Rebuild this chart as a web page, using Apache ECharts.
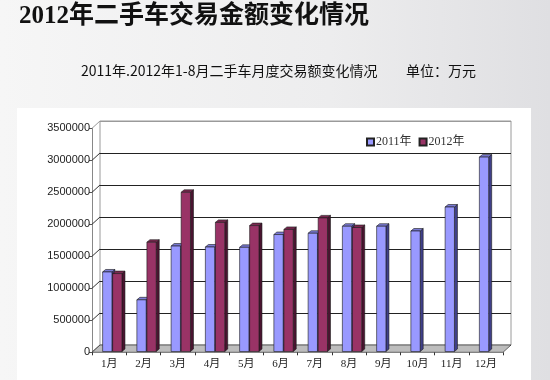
<!DOCTYPE html>
<html><head><meta charset="utf-8">
<script src="https://cdn.jsdelivr.net/npm/echarts@6/dist/echarts.min.js"></script>
<style>
html,body{margin:0;padding:0;}
body{width:550px;height:380px;background:linear-gradient(90deg,#f6f6f6 0%,#ededee 60%,#dfdfe2 100%);}
#c{width:550px;height:380px;}
</style></head>
<body><div id="c"></div>
<script>
const months = ['1月','2月','3月','4月','5月','6月','7月','8月','9月','10月','11月','12月'];
const sales2011 = [1255000, 820000, 1660000, 1645000, 1640000, 1840000, 1860000, 1970000, 1970000, 1895000, 2270000, 3050000];
const sales2012 = [1230000, 1720000, 2500000, 2030000, 1980000, 1920000, 2100000, 1950000];
const yTickValues = [0, 500000, 1000000, 1500000, 2000000, 2500000, 3000000, 3500000];
const seriesNames = ['2011年', '2012年'];

const DX = 8, DY = -7.3;      // 3D depth offset
const BD = 3, BDY = -2.5;     // bar depth offset

const chart = echarts.init(document.getElementById('c'));

function barRender(colors, offsetFrac) {
  return function (params, api) {
    const idx = api.value(0), v = api.value(1);
    const top = api.coord([idx, v]);
    const base = api.coord([idx, 0]);
    const cw = api.size([1, 0])[0];
    const w = cw * 0.272;
    const x0 = top[0] + cw * offsetFrac;
    const x1 = x0 + w;
    const yb = base[1] - 0.8, yt = top[1];
    const stroke = {stroke: '#1a1a1a', lineWidth: 0.6};
    return {
      type: 'group',
      children: [
        {type: 'polygon', shape: {points: [[x1, yb], [x1 + BD, yb + BDY], [x1 + BD, yt + BDY], [x1, yt]]},
          style: Object.assign({fill: colors[2]}, stroke)},
        {type: 'polygon', shape: {points: [[x0, yt], [x1, yt], [x1 + BD, yt + BDY], [x0 + BD, yt + BDY]]},
          style: Object.assign({fill: colors[1]}, stroke)},
        {type: 'rect', shape: {x: x0, y: yt, width: w, height: yb - yt},
          style: Object.assign({fill: colors[0]}, stroke)}
      ]
    };
  };
}

const option = {
  animation: false,
  backgroundColor: 'transparent',
  textStyle: {fontFamily: 'Liberation Serif, Noto Sans CJK SC'},
  graphic: [
    {type: 'rect', shape: {x: 17, y: 108, width: 514, height: 280}, style: {fill: '#ffffff'}, z: -10}
  ],
  title: [
    {text: '2012年二手车交易金额变化情况', left: 19, top: 4, padding: 0,
      textStyle: {fontSize: 25, fontWeight: 'bold', color: '#111', fontFamily: 'Liberation Serif, Noto Sans CJK SC'}},
    {text: '2011年.2012年1-8月二手车月度交易额变化情况', left: 81, top: 64, padding: 0,
      textStyle: {fontSize: 14, fontWeight: 'normal', color: '#111', fontFamily: 'Noto Sans CJK SC'}},
    {text: '单位：万元', left: 406, top: 64, padding: 0,
      textStyle: {fontSize: 14, fontWeight: 'normal', color: '#111', fontFamily: 'Noto Sans CJK SC'}}
  ],
  legend: {
    data: seriesNames, left: 361, top: 131, icon: 'rect', itemWidth: 7, itemHeight: 7, itemGap: 7,
    textStyle: {fontSize: 12, color: '#333', fontFamily: 'Liberation Serif, Noto Sans CJK SC', padding: [0, 0, 0, -3]}
  },
  grid: [
    {left: 92, top: 128.3, width: 411, height: 224, containLabel: false},
    {left: 100, top: 121, width: 411, height: 224, containLabel: false, show: true, borderColor: '#9a9a9a', borderWidth: 1}
  ],
  xAxis: [
    {type: 'category', gridIndex: 0, data: months, boundaryGap: true,
      axisLine: {show: false},
      axisTick: {show: true, length: 3, lineStyle: {color: '#333'}},
      axisLabel: {fontSize: 11, color: '#222', margin: 6, fontFamily: 'Liberation Serif, Noto Sans CJK SC'}, z: 5},
    {type: 'category', gridIndex: 1, data: months, show: false}
  ],
  yAxis: [
    {type: 'value', gridIndex: 0, min: 0, max: 3500000, interval: 500000,
      axisLine: {show: true, lineStyle: {color: '#888'}},
      axisTick: {show: true, length: 3, lineStyle: {color: '#555'}},
      splitLine: {show: false},
      axisLabel: {fontSize: 11, color: '#222', margin: 2, fontFamily: 'Liberation Sans', formatter: v => String(v)}},
    {type: 'value', gridIndex: 1, min: 0, max: 3500000, interval: 500000,
      axisLine: {show: false}, axisTick: {show: false}, axisLabel: {show: false},
      splitLine: {show: true, lineStyle: {color: ['#222', '#222', '#222', '#222', '#222', '#222', '#222', '#9a9a9a'], width: 1}}}
  ],
  series: [
    {
      type: 'custom', name: 'wall', xAxisIndex: 0, yAxisIndex: 0, silent: true, z: 1,
      data: yTickValues.map(v => [0, v]),
      renderItem: function (params, api) {
        const cs = params.coordSys;
        const y = api.coord([0, api.value(1)])[1];
        return {type: 'line', shape: {x1: cs.x, y1: y, x2: cs.x + DX, y2: y + DY},
          style: {stroke: api.value(1) === 3500000 ? '#9a9a9a' : '#333', lineWidth: 1}};
      }
    },
    {
      type: 'custom', name: 'floor', xAxisIndex: 0, yAxisIndex: 0, silent: true, z: 2,
      data: [[0, 0]],
      renderItem: function (params, api) {
        const cs = params.coordSys;
        const yb = cs.y + cs.height;
        return {type: 'polygon', shape: {points: [[cs.x, yb], [cs.x + cs.width, yb], [cs.x + cs.width + DX, yb + DY], [cs.x + DX, yb + DY]]},
          style: {fill: '#bdbdbd', stroke: '#444', lineWidth: 0.8}};
      }
    },
    {
      type: 'custom', name: seriesNames[0], xAxisIndex: 0, yAxisIndex: 0, z: 3,
      itemStyle: {color: '#9999ff', borderColor: '#222', borderWidth: 1},
      data: sales2011.map((v, i) => [i, v]),
      renderItem: barRender(['#9999ff', '#7b7bd6', '#40408a'], -0.19)
    },
    {
      type: 'custom', name: seriesNames[1], xAxisIndex: 0, yAxisIndex: 0, z: 3,
      itemStyle: {color: '#993366', borderColor: '#222', borderWidth: 1},
      data: sales2012.map((v, i) => [i, v]),
      renderItem: barRender(['#993366', '#7a2850', '#4a1430'], 0.103)
    }
  ]
};
chart.setOption(option);
</script>
</body></html>
